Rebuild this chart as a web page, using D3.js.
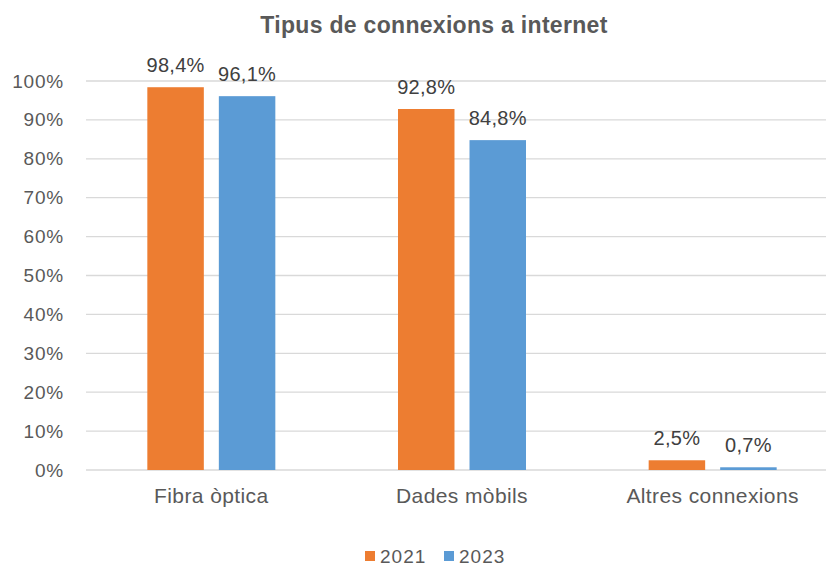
<!DOCTYPE html>
<html>
<head>
<meta charset="utf-8">
<script src="https://cdn.jsdelivr.net/npm/d3@7"></script>
<style>
  body { margin: 0; background: #fff; }
  text { font-family: Arial, "Liberation Sans", sans-serif; }
</style>
</head>
<body>
<svg></svg>
<script>
var categories = ["Fibra òptica", "Dades mòbils", "Altres connexions"]
var years = ["2021", "2023"]
var values2021 = [98.4, 92.8, 2.5]
var values2023 = [96.1, 84.8, 0.7]
var yTicks = [0, 10, 20, 30, 40, 50, 60, 70, 80, 90, 100]

var width = 826
var height = 569
var colors = ["#ED7D31", "#5B9BD5"]

var svg = d3.select("svg")
    .attr("width", width)
    .attr("height", height)

var x = d3.scaleBand()
    .domain(categories)
    .range([86, 838])

var xInner = d3.scaleBand()
    .domain(years)
    .range([-64, 64])
    .paddingInner(0.21)

var y = d3.scaleLinear()
    .domain([0, 100])
    .range([470, 81])

// title
svg.append("text")
    .attr("x", 434)
    .attr("y", 33)
    .attr("text-anchor", "middle")
    .style("font-size", "23px")
    .style("font-weight", "bold")
    .style("letter-spacing", "0.3px")
    .style("fill", "#595959")
    .text("Tipus de connexions a internet")

// gridlines
svg.append("g")
    .selectAll("line")
    .data(yTicks)
    .enter().append("line")
    .attr("x1", 86)
    .attr("x2", 838)
    .attr("y1", d => y(d))
    .attr("y2", d => y(d))
    .style("stroke", "#D9D9D9")
    .style("stroke-width", 1.3)

// y labels
svg.append("g")
    .selectAll("text")
    .data(yTicks)
    .enter().append("text")
    .attr("x", 64)
    .attr("y", d => y(d) + 6.5)
    .attr("text-anchor", "end")
    .style("font-size", "19px")
    .style("letter-spacing", "0.8px")
    .style("fill", "#595959")
    .text(d => d + "%")

var series = [values2021, values2023]

series.forEach(function(vals, si) {
    var g = svg.append("g")
    g.selectAll("rect")
        .data(vals)
        .enter().append("rect")
        .attr("x", (d, i) => x(categories[i]) + x.bandwidth() / 2 + xInner(years[si]))
        .attr("y", d => y(d))
        .attr("width", xInner.bandwidth())
        .attr("height", d => y(0) - y(d))
        .attr("fill", colors[si])

    g.selectAll("text")
        .data(vals)
        .enter().append("text")
        .attr("x", (d, i) => x(categories[i]) + x.bandwidth() / 2 + xInner(years[si]) + xInner.bandwidth() / 2)
        .attr("y", d => y(d) - 15)
        .attr("text-anchor", "middle")
        .style("font-size", "20px")
        .style("letter-spacing", "0.3px")
        .style("fill", "#404040")
        .text(d => d.toFixed(1).replace(".", ",") + "%")
})

// category labels
svg.append("g")
    .selectAll("text")
    .data(categories)
    .enter().append("text")
    .attr("x", d => x(d) + x.bandwidth() / 2)
    .attr("y", 503)
    .attr("text-anchor", "middle")
    .style("font-size", "21px")
    .style("letter-spacing", "0.4px")
    .style("fill", "#595959")
    .text(d => d)

// legend
var legendX = [365, 444]
var legend = svg.append("g")
    .selectAll("g")
    .data(years)
    .enter().append("g")
    .attr("transform", (d, i) => "translate(" + legendX[i] + ",0)")

legend.append("rect")
    .attr("x", 0)
    .attr("y", 551)
    .attr("width", 10)
    .attr("height", 10)
    .attr("fill", (d, i) => colors[i])

legend.append("text")
    .attr("x", 15)
    .attr("y", 563)
    .style("font-size", "19px")
    .style("letter-spacing", "1px")
    .style("fill", "#595959")
    .text(d => d)
</script>
</body>
</html>
